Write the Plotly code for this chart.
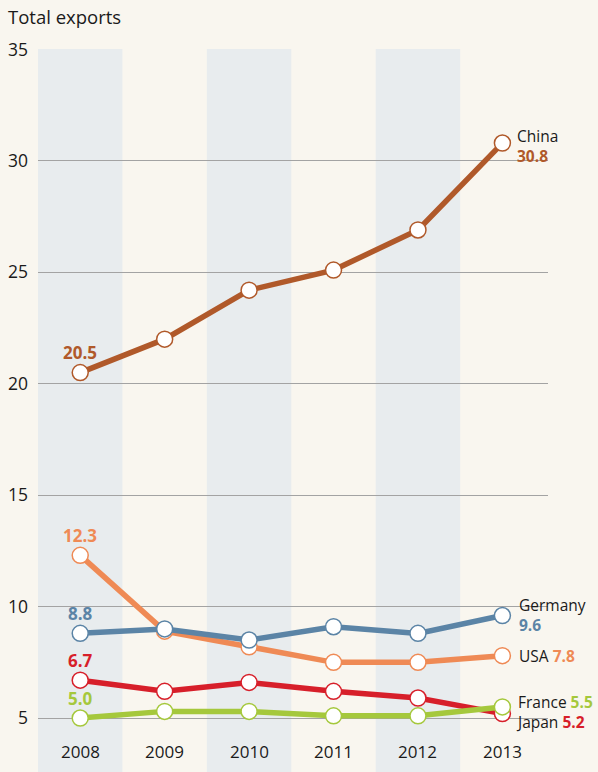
import plotly.graph_objects as go

years = [2008, 2009, 2010, 2011, 2012, 2013]
china = [20.5, 22.0, 24.2, 25.1, 26.9, 30.8]
germany = [8.8, 9.0, 8.5, 9.1, 8.8, 9.6]
usa = [12.3, 8.9, 8.2, 7.5, 7.5, 7.8]
japan = [6.7, 6.2, 6.6, 6.2, 5.9, 5.2]
france = [5.0, 5.3, 5.3, 5.1, 5.1, 5.5]
y_ticks = [5, 10, 15, 20, 25, 30, 35]
shaded_years = [2008, 2010, 2012]

FONT = "Open Sans"
BG = "#f9f6ef"
BAND = "#e8ecee"
TXT = "#1a1a1a"

series = [
    ("USA", usa, "#ef8a55"),
    ("Germany", germany, "#5b84a6"),
    ("Japan", japan, "#d71f2a"),
    ("France", france, "#a5c83c"),
    ("China", china, "#b0592a"),
]

fig = go.Figure()
for name, vals, col in series:
    fig.add_trace(go.Scatter(
        x=years, y=vals, mode="lines+markers", name=name,
        line=dict(color=col, width=5.5),
        marker=dict(size=16, color="white", line=dict(color=col, width=1.5)),
        showlegend=False, hoverinfo="skip",
    ))

shapes = []
for yr in shaded_years:
    shapes.append(dict(type="rect", xref="x", yref="paper", x0=yr - 0.5, x1=yr + 0.5,
                       y0=0, y1=1, fillcolor=BAND, line=dict(width=0), layer="below"))

ann = []
for name, vals, col in series:
    ann.append(dict(x=years[0], y=vals[0], text=f"<b>{vals[0]:.1f}</b>", showarrow=False,
                    xanchor="center", yanchor="middle", yshift=20,
                    font=dict(family=FONT, size=17, color=col)))

colors = {n: c for n, _, c in series}
last = years[-1]

def val(n, v):
    return f"<b><span style='color:{colors[n]}'>{v:.1f}</span></b>"

def lab(text, y, ys, xs=13):
    ann.append(dict(x=last, y=y, text=text, showarrow=False, xanchor="left", yanchor="middle",
                    align="left", xshift=xs, yshift=ys,
                    font=dict(family=FONT, size=15.5, color=TXT)))

lab(f"China<br>{val('China', china[-1])}", china[-1], -3)
lab(f"Germany<br>{val('Germany', germany[-1])}", germany[-1], 1, 15)
lab(f"USA {val('USA', usa[-1])}", usa[-1], 0, 15)
lab(f"France {val('France', france[-1])}<br>Japan {val('Japan', japan[-1])}", france[-1], -5, 12)

for yr in years:
    ann.append(dict(x=yr, y=3.52, text=str(yr), showarrow=False, xanchor="center", yanchor="middle",
                    font=dict(family=FONT, size=17, color=TXT)))

fig.update_layout(
    width=598, height=772,
    margin=dict(l=38, r=50, t=49, b=0),
    paper_bgcolor=BG, plot_bgcolor=BG,
    shapes=shapes, annotations=ann,
    title=dict(text="Total exports", x=8 / 598, xanchor="left", xref="container",
               y=1 - 18 / 772, yanchor="middle", yref="container",
               font=dict(family=FONT, size=18.5, color=TXT)),
    xaxis=dict(range=[2007.5, 2013.54], showgrid=False, zeroline=False, showticklabels=False,
               showline=False, fixedrange=True),
    yaxis=dict(range=[2.58, 35.02], tickvals=y_ticks, ticktext=[str(t) for t in y_ticks],
               showgrid=True, gridcolor="#a3a3a3", gridwidth=1, zeroline=False, showline=False,
               ticks="", ticklabelstandoff=9, fixedrange=True,
               tickfont=dict(family=FONT, size=17.5, color=TXT)),
)

fig.write_html("out.html", config={"displayModeBar": False},
               post_script="document.body.style.margin='0';document.body.style.background='%s';" % BG)
